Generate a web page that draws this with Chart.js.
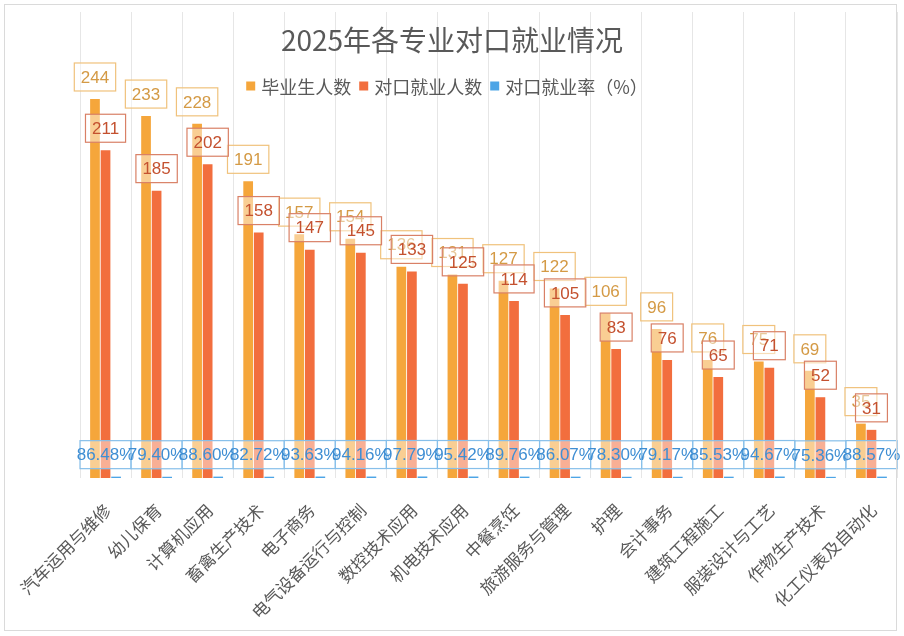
<!DOCTYPE html>
<html>
<head>
<meta charset="utf-8">
<script src="https://cdn.jsdelivr.net/npm/chart.js@4.4.1/dist/chart.umd.min.js"></script>
<style>
    html, body { margin: 0; padding: 0; background: #fff; }
    #wrap { position: relative; width: 904px; height: 636px; }
    #frame { position: absolute; left: 4px; top: 4px; width: 891px; height: 625px; border: 1.5px solid #dadada; pointer-events: none; }
</style>
</head>
<body>
<div id="wrap">
    <canvas id="jobChart" width="904" height="636"></canvas>
    <div id="frame"></div>
</div>
<script>
const majors = ['汽车运用与维修', '幼儿保育', '计算机应用', '畜禽生产技术', '电子商务', '电气设备运行与控制',
    '数控技术应用', '机电技术应用', '中餐烹饪', '旅游服务与管理', '护理', '会计事务', '建筑工程施工',
    '服装设计与工艺', '作物生产技术', '化工仪表及自动化'];
const graduates = [244, 233, 228, 191, 157, 154, 136, 131, 127, 122, 106, 96, 76, 75, 69, 35];
const employed = [211, 185, 202, 158, 147, 145, 133, 125, 114, 105, 83, 76, 65, 71, 52, 31];
const matchRate = [0.8648, 0.7940, 0.8860, 0.8272, 0.9363, 0.9416, 0.9779, 0.9542, 0.8976, 0.8607,
    0.7830, 0.7917, 0.8553, 0.9467, 0.7536, 0.8857];

const chartTitle = '2025年各专业对口就业情况';
const seriesNames = ['毕业生人数', '对口就业人数', '对口就业率（%）'];
const seriesColors = ['#F5A63B', '#F26E3E', '#4DA5E6'];

// label styles per series: text colour, box border colour
const labelText = ['#D49A45', '#C4512F', '#3F8ED3'];
const labelBorder = ['#F0C27C', '#D98066', '#86BFEA'];
const numFont = '17px "Liberation Sans", Arial, sans-serif';
const cjkFont = '"Noto Sans CJK SC", "Liberation Sans", sans-serif';

function formatValue(i, v) {
    if (i === 2) return (v * 100).toFixed(2) + '%';
    return String(v);
}

// boxed labels above each bar, red over orange, percent row last
const boxLabels = {
    id: 'boxLabels',
    afterDatasetsDraw(chart) {
        const ctx = chart.ctx;
        const xs = chart.scales.x;
        const catWidth = xs.width / majors.length;
        ctx.save();
        ctx.font = numFont;
        ctx.textAlign = 'center';
        ctx.textBaseline = 'middle';
        chart.data.datasets.forEach((ds, i) => {
            const meta = chart.getDatasetMeta(i);
            meta.data.forEach((bar, j) => {
                const txt = formatValue(i, ds.data[j]);
                const tw = ctx.measureText(txt).width;
                let cx = bar.x;
                let bw = tw + 13;
                if (i === 2) {
                    // percent boxes span the category, centred on the group
                    cx = chart.getDatasetMeta(1).data[j].x;
                    bw = catWidth;
                }
                const cy = bar.y - 22;
                const bh = 28;
                ctx.fillStyle = 'rgba(255,255,255,0.45)';
                ctx.fillRect(cx - bw / 2, cy - bh / 2, bw, bh);
                ctx.strokeStyle = labelBorder[i];
                ctx.lineWidth = 1.2;
                ctx.strokeRect(cx - bw / 2, cy - bh / 2, bw, bh);
                ctx.fillStyle = labelText[i];
                ctx.fillText(txt, cx, cy + 1);
            });
        });
        ctx.restore();
    }
};

// title and legend sit over the plot area, like the original
const overlayHeader = {
    id: 'overlayHeader',
    afterDraw(chart) {
        const ctx = chart.ctx;
        ctx.save();
        ctx.textBaseline = 'middle';
        ctx.fillStyle = '#595959';
        ctx.font = '28px ' + cjkFont;
        ctx.textAlign = 'center';
        ctx.fillText(chartTitle, 452, 40);

        ctx.font = '18px ' + cjkFont;
        ctx.textAlign = 'left';
        const box = 9, gap = 6, itemGap = 8;
        const widths = chart.data.datasets.map(d => box + gap + ctx.measureText(d.label).width);
        const total = widths.reduce((a, b) => a + b, 0) + itemGap * (widths.length - 1);
        let x = 447 - total / 2;
        const y = 86;
        chart.data.datasets.forEach((d, i) => {
            ctx.fillStyle = d.backgroundColor;
            ctx.fillRect(x, y - box / 2, box, box);
            ctx.fillStyle = '#595959';
            ctx.fillText(d.label, x + box + gap, y + 1);
            x += widths[i] + itemGap;
        });
        ctx.restore();
    }
};

new Chart('jobChart', {
    type: 'bar',
    data: {
        labels: majors,
        datasets: [{
            label: seriesNames[0],
            data: graduates,
            backgroundColor: seriesColors[0]
        }, {
            label: seriesNames[1],
            data: employed,
            backgroundColor: seriesColors[1]
        }, {
            label: seriesNames[2],
            data: matchRate,
            backgroundColor: seriesColors[2]
        }]
    },
    options: {
        responsive: false,
        animation: false,
        devicePixelRatio: 1,
        categoryPercentage: 0.62,
        barPercentage: 0.92,
        layout: {
            padding: { left: 80, right: 7, top: 12, bottom: 0 }
        },
        scales: {
            x: {
                grid: {
                    color: '#e6e6e6',
                    offset: true,
                    drawTicks: false
                },
                border: { display: false },
                ticks: {
                    autoSkip: false,
                    maxRotation: 45,
                    minRotation: 45,
                    padding: 22,
                    labelOffset: 2,
                    color: '#595959',
                    font: { family: cjkFont, size: 17 }
                },
                afterFit(scale) {
                    // fixed axis band; keep rotated labels from pushing the plot inward
                    scale.height = 158;
                    scale.paddingLeft = 0;
                    scale.paddingRight = 0;
                }
            },
            y: {
                display: false,
                min: 0,
                max: 300
            }
        },
        plugins: {
            legend: { display: false },
            title: { display: false },
            tooltip: { enabled: false }
        }
    },
    plugins: [boxLabels, overlayHeader]
});
</script>
</body>
</html>
